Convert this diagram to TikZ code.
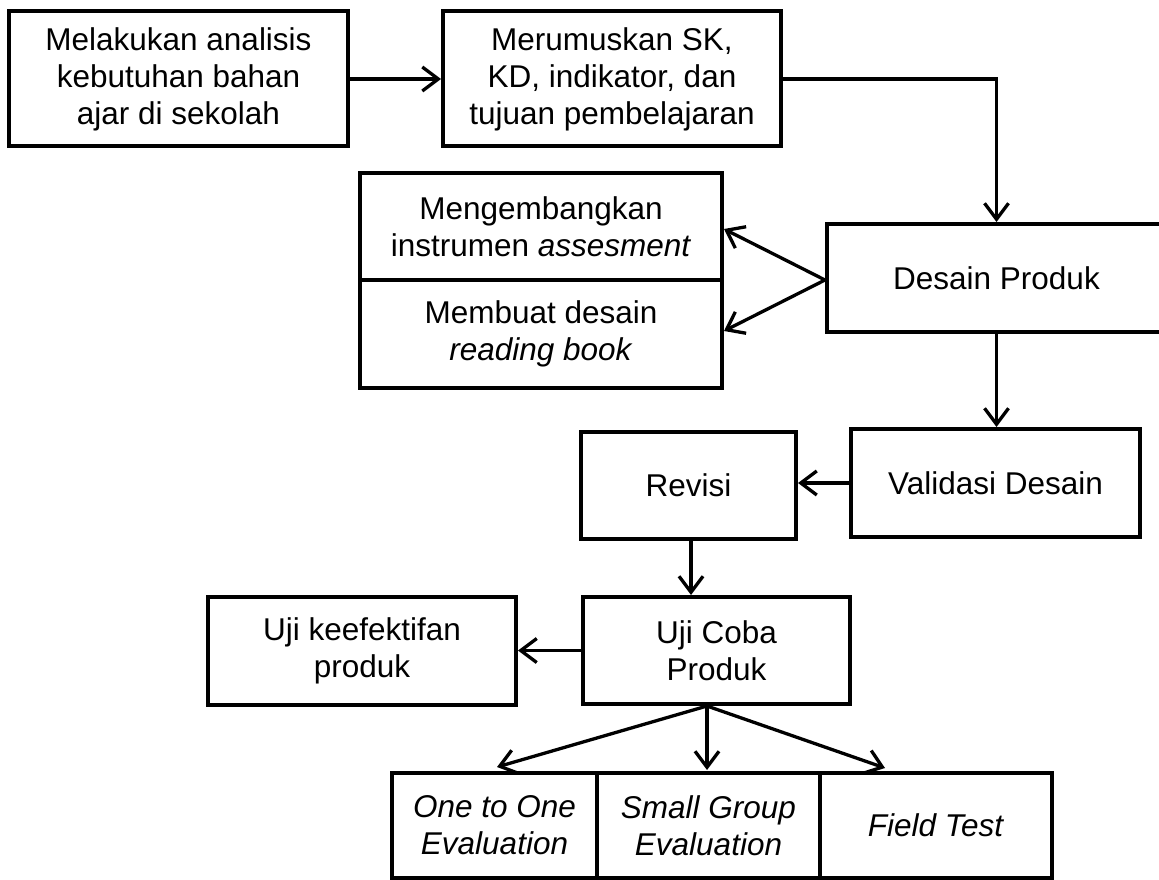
\documentclass[tikz,border=0pt]{standalone}
\usepackage{fontspec}
\setmainfont{Liberation Sans}
\usetikzlibrary{arrows.meta,calc}
\begin{document}
\begin{tikzpicture}[x=1pt,y=-1pt,
  box/.style={draw, line width=4pt, align=center, inner sep=0pt, outer sep=2pt,
    font=\fontsize{31.5}{37}\selectfont},
  arr/.style={line width=3.3pt, -{Straight Barb[length=16pt,width=24pt]}},
  line/.style={line width=3.3pt}]
\useasboundingbox (0,0) rectangle (1159,880);
\fill[white] (0,0) rectangle (1159,880);
\node[box, minimum width=339pt, minimum height=135pt] (b1) at (178.5,79)
  {Melakukan analisis\\kebutuhan bahan\\ajar di sekolah};
\node[box, minimum width=338pt, minimum height=135pt] (b2) at (612,79)
  {Merumuskan SK,\\KD, indikator, dan\\tujuan pembelajaran};
\node[box, minimum width=362pt, minimum height=107pt] (inst) at (541,226.5)
  {Mengembangkan\\instrumen \textit{assesment}};
\node[box, minimum width=362pt, minimum height=108pt] (read) at (541,334)
  {Membuat desain\\\textit{reading book}};
\node[box, minimum width=339pt, minimum height=108pt] (desain) at (996.5,278)
  {Desain Produk};
\node[box, minimum width=289pt, minimum height=108pt] (valid) at (995.5,483)
  {Validasi Desain};
\node[box, minimum width=215pt, minimum height=107pt] (revisi) at (688.5,485.5)
  {Revisi};
\node[box, minimum width=267pt, minimum height=107pt] (uji) at (716.5,650.5)
  {Uji Coba\\Produk};
\node[box, minimum width=308pt, minimum height=108pt] (efek) at (362,651)
  {Uji keefektifan\\produk};
\node[box, minimum width=205pt, minimum height=105pt] (one) at (494.5,825.5)
  {\textit{One to One}\\\textit{Evaluation}};
\node[box, minimum width=223pt, minimum height=105pt] (small) at (708.5,825.5)
  {\textit{Small Group}\\\textit{Evaluation}};
\node[box, minimum width=232pt, minimum height=105pt] (field) at (936,825.5)
  {\textit{Field Test}};
\coordinate (o) at ($(uji.south)+(-9.5,0)$);
\coordinate (tone) at (497,767);
\coordinate (tfield) at (885,768);
\coordinate (tinst) at ($(inst.east)+(0,2.5)$);
\coordinate (tread) at ($(read.east)+(0,-3)$);
\draw[arr] (b1.east) -- (b2.west);
\draw[arr] (b2.east) -| (desain.north);
\draw[arr] ($(desain.west)+(0,2)$) -- (tinst);
\draw[arr] ($(desain.west)+(0,2)$) -- (tread);
\draw[arr] (desain.south) -- (desain.south |- valid.north);
\draw[arr] (valid.west) -- (valid.west -| revisi.east);
\draw[arr] ($(revisi.south)+(2.5,0)$) -- ($(revisi.south |- uji.north)+(2.5,0)$);
\draw[arr] (uji.west) -- (uji.west -| efek.east);
\draw[arr] (o) -- (tone);
\draw[arr] (o) -- ($(o |- small.north)+(0,-1)$);
\draw[arr] (o) -- (tfield);
\end{tikzpicture}
\end{document}
